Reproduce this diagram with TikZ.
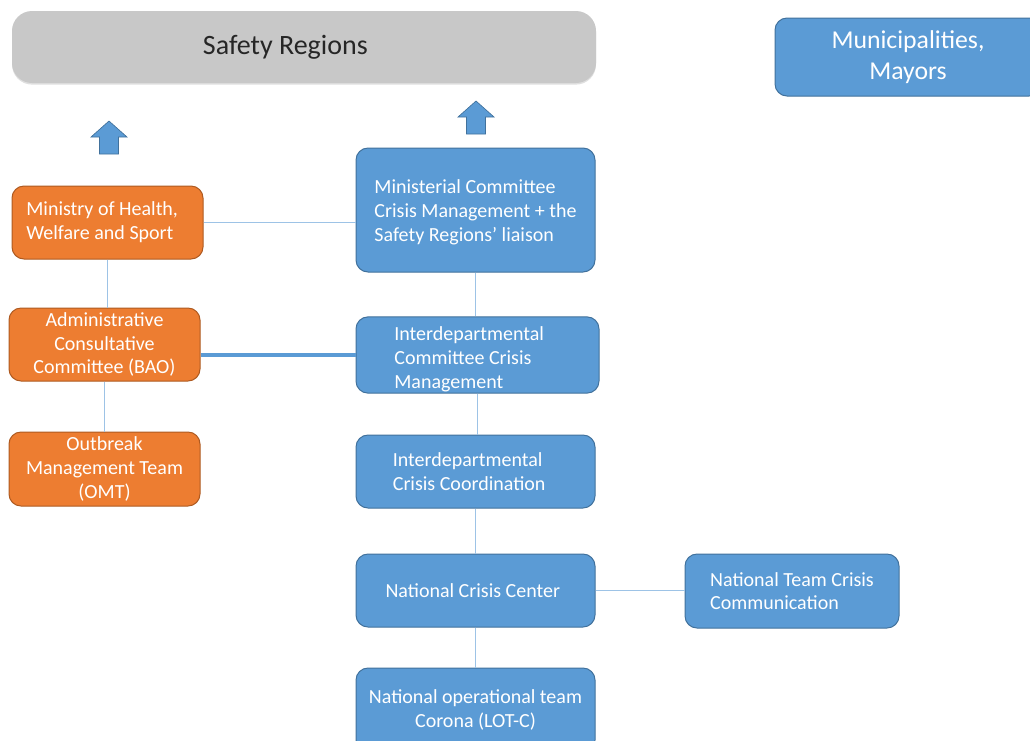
\documentclass[tikz,border=0pt]{standalone}
\usepackage{fontspec}
\setmainfont{Carlito}
\usetikzlibrary{positioning}
\usetikzlibrary{shadows}
\definecolor{mblue}{HTML}{5B9BD5}
\definecolor{mblueedge}{HTML}{41719C}
\definecolor{morange}{HTML}{ED7D31}
\definecolor{morangeedge}{HTML}{AE5A21}
\definecolor{mlink}{HTML}{9DC3E6}
\definecolor{mgray}{HTML}{C8C8C8}
\tikzset{unit/.style = {draw=mblueedge, fill=mblue, text=white, line width=0.75pt,
                        rounded corners=9pt, inner sep=1pt,
                        font=\fontsize{15}{17.8}\selectfont}}
\tikzset{health/.style = {unit, draw=morangeedge, fill=morange}}
\tikzset{link/.style = {mlink, line width=0.8pt}}
\tikzset{uparrow/.style = {draw=mblueedge, fill=mblue, line width=0.5pt}}
% pushes a left-aligned block of text to the left (or down) inside its box
\newcommand{\padright}[1]{\hspace*{#1}}
\newcommand{\padtop}[1]{\rule{0pt}{#1}}

\begin{document}
\begin{tikzpicture}[x=0.75pt, y=-0.75pt]
    \clip (0, 0) rectangle (1030, 740);

    \node [fill=mgray, rounded corners=15pt, minimum width=438pt, minimum height=54pt,
           drop shadow={opacity=0.25, shadow xshift=0pt, shadow yshift=-1.2pt},
           font=\fontsize{21}{25}\selectfont, text=black!85] (safety) at (304, 47) {Safety Regions\padright{28pt}};
    \node [unit, minimum width=199.5pt, minimum height=58.5pt, align=center,
           font=\fontsize{19.3}{23.2}\selectfont] (mayors) at (908, 57) {Municipalities,\\Mayors};

    \foreach \ax/\ay in {109/121, 476/101}
      \draw [uparrow, shift={(\ax, \ay)}] (-18, 16) -- (0, 0) -- (18, 16) -- (9.5, 16)
        -- (9.5, 33) -- (-9.5, 33) -- (-9.5, 16) -- cycle;

    \node [health, minimum width=143.25pt, minimum height=54.75pt, align=left] (ministry) at (107.5, 222.5) {Ministry of Health,\padright{8pt}\\Welfare and Sport};
    \node [health, minimum width=143.25pt, minimum height=54.75pt, align=center] (admin) at (104.5, 344.5) {Administrative\\Consultative\\Committee (BAO)};
    \node [health, minimum width=143.25pt, minimum height=55.5pt, align=center] (omt) at (104.5, 469) {Outbreak\\Management Team\\(OMT)};

    \node [unit, minimum width=179.25pt, minimum height=93pt, align=left] (mincom) at (475.5, 210) {\padtop{14pt}Ministerial Committee\\Crisis Management + the\\Safety Regions’ liaison};
    \node [unit, minimum width=182.25pt, minimum height=55.5pt, align=left] (icm) at (477.5, 355) {\padtop{17pt}Interdepartmental\padright{12.5pt}\\Committee Crisis\\Management};
    \node [unit, minimum width=179.25pt, minimum height=54.75pt, align=left] (icc) at (475.5, 471.5) {Interdepartmental\\Crisis Coordination\padright{9.5pt}};
    \node [unit, minimum width=179.25pt, minimum height=54.75pt] (ncc) at (475.5, 590.5) {National Crisis Center\padright{4pt}};
    \node [unit, minimum width=160.5pt, minimum height=55.5pt, align=left] (ntcc) at (792, 591) {National Team Crisis\\Communication};
    \node [unit, minimum width=179.25pt, minimum height=63pt, align=center] (lot) at (475.5, 710) {National operational team\\Corona (LOT-C)};

    \draw [link] (ministry.east) -- (ministry.east -| mincom.west);
    \draw [link] (ministry.south) -- (ministry.south |- admin.north);
    \draw [link] (admin.south) -- (omt.north);
    \draw [mblue, line width=3pt] (admin.east |- icm.west) -- (icm.west);
    \draw [link] (mincom.south) -- (mincom.south |- icm.north);
    \draw [link] (icm.south) -- (icm.south |- icc.north);
    \draw [link] (icc.south) -- (ncc.north);
    \draw [link] (ncc.south) -- (lot.north);
    \draw [link] (ncc.east) -- (ncc.east -| ntcc.west);
  \end{tikzpicture}
\end{document}
